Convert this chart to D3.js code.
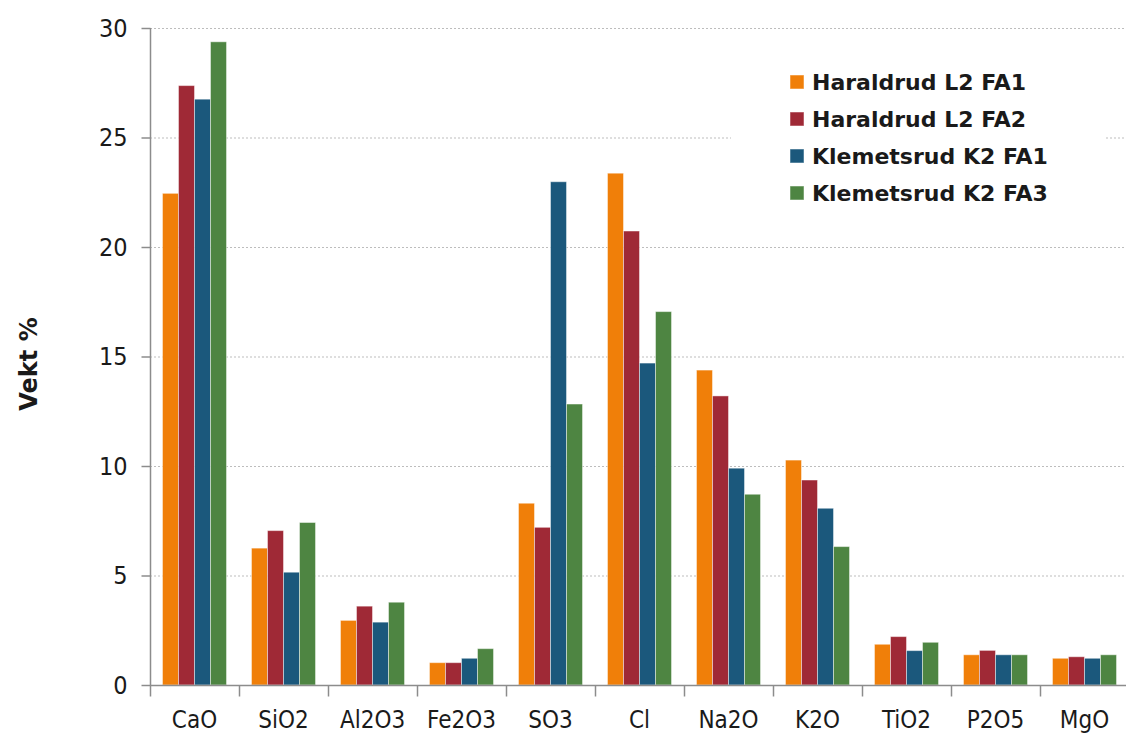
<!DOCTYPE html>
<html>
<head>
<meta charset="utf-8">
<script src="https://cdn.jsdelivr.net/npm/d3@7"></script>
<style>
  body { margin: 0; background: #fff; }
  svg { display: block; font-family: "DejaVu Sans", Verdana, sans-serif; }
</style>
</head>
<body>
<svg id="chart" width="1126" height="733"></svg>
<script>
// oxider på x-aksen
var categories = ["CaO", "SiO2", "Al2O3", "Fe2O3", "SO3", "Cl", "Na2O", "K2O", "TiO2", "P2O5", "MgO"];
var seriesNames = ["Haraldrud L2 FA1", "Haraldrud L2 FA2", "Klemetsrud K2 FA1", "Klemetsrud K2 FA3"];
var seriesColors = ["#f07f09", "#9f2936", "#1b587c", "#4e8542"];

var haraldrudFA1 = [22.45, 6.25, 2.95, 1.02, 8.3, 23.37, 14.38, 10.27, 1.86, 1.38, 1.22];
var haraldrudFA2 = [27.37, 7.05, 3.6, 1.02, 7.2, 20.73, 13.2, 9.36, 2.21, 1.58, 1.29];
var klemetsrudFA1 = [26.75, 5.15, 2.87, 1.22, 22.98, 14.7, 9.9, 8.07, 1.57, 1.38, 1.22];
var klemetsrudFA3 = [29.37, 7.42, 3.78, 1.66, 12.83, 17.05, 8.71, 6.32, 1.95, 1.38, 1.38];

var yTicks = [0, 5, 10, 15, 20, 25, 30];

var series = [haraldrudFA1, haraldrudFA2, klemetsrudFA1, klemetsrudFA3];

var svg = d3.select("#chart");

var x = d3.scaleBand()
	.domain(categories)
	.range([150, 1129])
	.paddingInner(0)
	.paddingOuter(0);

var xInner = d3.scaleBand()
	.domain(d3.range(series.length))
	.range([0, x.bandwidth()])
	.paddingOuter(0.78)
	.paddingInner(0);

var y = d3.scaleLinear()
	.domain([0, 30])
	.range([685, 28]);

// rutenett
svg.append("g")
	.selectAll("line")
	.data(yTicks.filter(d => d > 0))
	.enter()
	.append("line")
	.attr("x1", 150)
	.attr("x2", 1126)
	.attr("y1", d => y(d) + 0.5)
	.attr("y2", d => y(d) + 0.5)
	.attr("stroke", "#bdbdbd")
	.attr("stroke-width", 1)
	.attr("stroke-dasharray", "2,2");

// søyler
var groups = svg.append("g")
	.selectAll("g")
	.data(categories)
	.enter()
	.append("g")
	.attr("transform", d => "translate(" + x(d) + ",0)");

groups.selectAll("rect")
	.data((c, i) => series.map((s, j) => ({ j: j, v: s[i] })))
	.enter()
	.append("rect")
	.attr("x", d => xInner(d.j))
	.attr("width", xInner.bandwidth())
	.attr("y", d => y(d.v))
	.attr("height", d => y(0) - y(d.v))
	.attr("fill", d => seriesColors[d.j])
	.attr("stroke", "rgba(255,255,255,0.45)")
	.attr("stroke-width", 1);

// legend bakgrunn dekker rutenettet
svg.append("rect")
	.attr("x", 731)
	.attr("y", 48)
	.attr("width", 374)
	.attr("height", 170)
	.attr("fill", "#fff");

var legend = svg.append("g")
	.selectAll("g")
	.data(seriesNames)
	.enter()
	.append("g")
	.attr("transform", (d, i) => "translate(790," + (82 + i * 37) + ")");

legend.append("rect")
	.attr("x", 0)
	.attr("y", -7)
	.attr("width", 14)
	.attr("height", 14)
	.attr("fill", (d, i) => seriesColors[i])
	.attr("stroke", "rgba(255,255,255,0.5)");

legend.append("text")
	.attr("x", 22)
	.attr("y", 0)
	.attr("dy", "0.36em")
	.attr("font-size", "22px")
	.attr("font-weight", "bold")
	.attr("fill", "#1a1a1a")
	.text(d => d);

// y-akse
var yAxis = d3.axisLeft(y)
	.tickValues(yTicks)
	.tickSize(9)
	.tickPadding(14);

var yg = svg.append("g")
	.attr("transform", "translate(150.5,0)")
	.call(yAxis);
yg.select(".domain").attr("stroke", "#8c8c8c").attr("stroke-width", 1.5).attr("d", "M0," + y(30) + "V" + y(0));
yg.selectAll(".tick line").attr("stroke", "#8c8c8c").attr("stroke-width", 1.5);
yg.selectAll(".tick text")
	.attr("font-size", "25px")
	.attr("font-family", "DejaVu Sans Condensed, DejaVu Sans, sans-serif")
	.attr("fill", "#1a1a1a");

// x-akse
var xAxis = d3.axisBottom(x)
	.tickSize(0)
	.tickPadding(25);

var xg = svg.append("g")
	.attr("transform", "translate(0," + (y(0) + 0.5) + ")")
	.call(xAxis);
xg.select(".domain").attr("stroke", "#8c8c8c").attr("stroke-width", 1.5).attr("d", "M150,0H1126");
xg.selectAll(".tick text")
	.attr("font-size", "24px")
	.attr("font-family", "DejaVu Sans Condensed, DejaVu Sans, sans-serif")
	.attr("fill", "#1a1a1a");

// delestreker mellom kategoriene
xg.append("g")
	.selectAll("line")
	.data(categories)
	.enter()
	.append("line")
	.attr("x1", d => Math.round(x(d)) + 0.5)
	.attr("x2", d => Math.round(x(d)) + 0.5)
	.attr("y1", 0)
	.attr("y2", 11)
	.attr("stroke", "#8c8c8c")
	.attr("stroke-width", 1.5);

// y-tittel
svg.append("text")
	.attr("transform", "translate(37,364) rotate(-90)")
	.attr("text-anchor", "middle")
	.attr("font-size", "24px")
	.attr("font-weight", "bold")
	.attr("fill", "#1a1a1a")
	.text("Vekt %");
</script>
</body>
</html>
